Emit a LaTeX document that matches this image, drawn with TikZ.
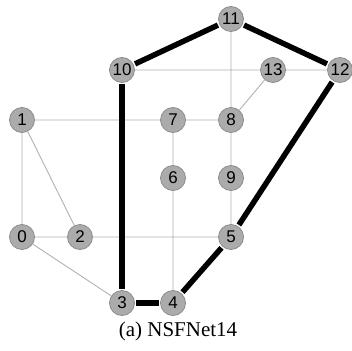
\documentclass[tikz,border=0pt]{standalone}
\usepackage{fontspec}
\setmainfont{Liberation Serif}
\newfontfamily\nodefont{Liberation Sans}
\begin{document}
\begin{tikzpicture}[x=1pt,y=-1pt,
  vtx/.style={circle,draw=black!45,fill=black!33,line width=0.8pt,minimum size=25pt,inner sep=0pt,font=\nodefont\fontsize{17}{17}\selectfont},
  thin/.style={draw=black!30,line width=0.9pt},
  thick/.style={draw=black,line width=5.5pt,shorten <=1.5pt,shorten >=1.5pt}]
\useasboundingbox (0,0) rectangle (352,350);
\fill[white] (0,0) rectangle (352,350);
\node[vtx] (n10) at (122,70) {10};
\node[vtx] (n11) at (231,19) {11};
\node[vtx] (n13) at (273,70) {13};
\node[vtx] (n12) at (340,70) {12};
\node[vtx] (n1) at (22,120) {1};
\node[vtx] (n7) at (173,120) {7};
\node[vtx] (n8) at (231,120) {8};
\node[vtx] (n6) at (173,178) {6};
\node[vtx] (n9) at (231,178) {9};
\node[vtx] (n0) at (22,237) {0};
\node[vtx] (n2) at (80,237) {2};
\node[vtx] (n5) at (231,237) {5};
\node[vtx] (n3) at (122,303) {3};
\node[vtx] (n4) at (173,303) {4};
\node[font=\fontsize{21}{21}\selectfont] (cap) at (178,331) {(a) NSFNet14};
\path[thin] (n10) -- (n13) (n13) -- (n12) (n11) -- (n8) (n13) -- (n8)
  (n1) -- (n7) (n7) -- (n8) (n1) -- (n0) (n1) -- (n2) (n7) -- (n6) (n6) -- (n4)
  (n8) -- (n9) (n9) -- (n5) (n0) -- (n2) (n2) -- (n5) (n0) -- (n3);
\path[thick] (n10) -- (n11);
\path[thick] (n11) -- (n12);
\path[thick] (n12) -- (n5);
\path[thick] (n5) -- (n4);
\path[thick] (n4) -- (n3);
\path[thick] (n3) -- (n10);
\end{tikzpicture}
\end{document}
